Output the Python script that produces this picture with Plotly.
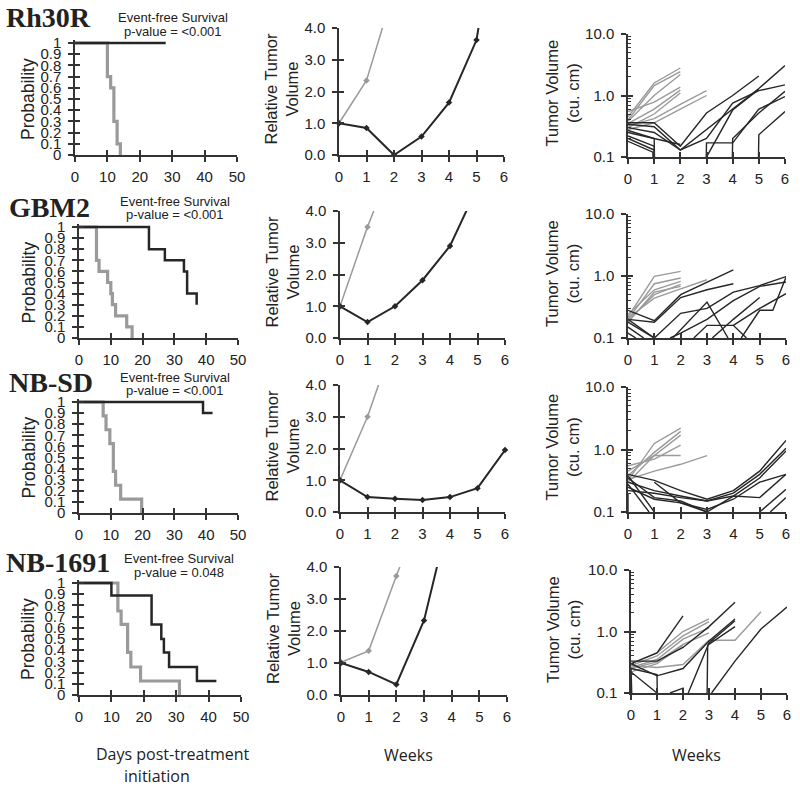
import plotly.graph_objects as go

W, H = 800, 789

# ---------------- data ----------------
models = ["Rh30R", "GBM2", "NB-SD", "NB-1691"]
p_values = ["p-value = <0.001", "p-value = <0.001", "p-value = <0.001", "p-value = 0.048"]

# Kaplan-Meier (days, probability)
km_ctrl_days = [[0, 10, 11, 12, 13, 14],
                [0, 5.5, 6.3, 9, 10, 10.5, 11.5, 15, 16.7],
                [0, 7.6, 8.5, 9.7, 10.8, 11.5, 13.1, 19.7],
                [0, 12, 13, 15, 16, 19, 31]]
km_ctrl_prob = [[1, 0.7, 0.6, 0.3, 0.1, 0],
                [1, 0.7, 0.6, 0.5, 0.4, 0.3, 0.2, 0.1, 0],
                [1, 0.875, 0.75, 0.625, 0.375, 0.25, 0.125, 0],
                [1, 0.75, 0.63, 0.38, 0.25, 0.125, 0]]
km_trt_days = [[0, 28],
               [0, 22, 27, 33, 34, 37],
               [0, 39, 42],
               [0, 10, 22.4, 25.4, 26.2, 27.8, 36.4, 42.4]]
km_trt_prob = [[1, 1],
               [1, 0.8, 0.7, 0.6, 0.4, 0.3],
               [1, 0.9, 0.9],
               [1, 0.889, 0.63, 0.5, 0.38, 0.25, 0.125, 0.125]]

# Relative tumor volume (weeks)
rtv_ctrl = [[1.0, 2.35, 5.2],
            [1.0, 3.5, 5.7],
            [1.0, 3.0, 5.5],
            [1.02, 1.38, 3.72, 6.0]]
rtv_trt = [[1.0, 0.85, 0.0, 0.58, 1.65, 3.62, 9.0],
           [1.0, 0.5, 1.0, 1.82, 2.9, 4.75],
           [1.0, 0.47, 0.42, 0.38, 0.47, 0.75, 1.95],
           [1.0, 0.72, 0.33, 2.33, 5.9]]

# Individual tumor volumes (weeks, cu. cm)
rh30r_ctrl_weeks = [[0, 1, 2], [0, 1, 2], [0, 1, 2], [0, 1, 2], [0, 1, 2], [0, 1, 2], [0, 1, 2, 3], [0, 1, 2, 3]]
rh30r_ctrl_vols = [[0.45, 1.6, 2.8], [0.4, 1.45, 2.45], [0.38, 1.0, 2.2], [0.55, 0.78, 1.37],
                   [0.35, 0.6, 1.22], [0.3, 0.5, 1.1], [0.32, 0.42, 0.72, 1.2], [0.28, 0.36, 0.6, 1.0]]
rh30r_trt_weeks = [[0, 1, 2, 3, 4, 5], [0, 1, 2, 3, 4, 5, 6], [0, 1, 2, 3, 4, 5, 6], [0, 1, 2],
                   [0, 1, 1.05], [0, 1, 1.05], [0, 1, 1.05], [0, 0.95, 1],
                   [2.95, 3, 4, 5, 6], [2.95, 3, 4, 5], [3.95, 4, 5, 6], [4.95, 5, 6]]
rh30r_trt_vols = [[0.36, 0.36, 0.15, 0.52, 1.0, 2.08], [0.34, 0.31, 0.13, 0.28, 0.6, 1.3, 3.06],
                  [0.3, 0.25, 0.13, 0.2, 0.75, 1.2, 1.49], [0.27, 0.2, 0.16],
                  [0.25, 0.2, 0.01], [0.22, 0.15, 0.01], [0.2, 0.13, 0.01], [0.18, 0.12, 0.01],
                  [0.01, 0.17, 0.17, 0.6, 0.96], [0.01, 0.1, 0.58, 1.25], [0.01, 0.2, 0.52, 1.17],
                  [0.01, 0.23, 0.55]]

gbm2_ctrl_weeks = [[0, 1, 2], [0, 1, 2], [0, 1, 2], [0, 1, 2], [0, 1, 2, 3], [0, 1, 2]]
gbm2_ctrl_vols = [[0.22, 0.99, 1.19], [0.2, 0.75, 0.93], [0.24, 0.6, 0.82], [0.19, 0.5, 0.73],
                  [0.21, 0.44, 0.62, 0.87], [0.18, 0.55, 0.68]]
gbm2_trt_weeks = [[0, 1, 2, 3, 4], [0, 1, 2, 3, 4], [0, 1, 2, 3, 4, 5, 6], [1.6, 2, 3, 4, 5, 6],
                  [1.7, 3, 3.8], [2.5, 3, 4, 4.5], [3.2, 4, 5], [4.3, 5, 5.5, 6], [4, 5, 6],
                  [0, 0.6], [0, 0.3], [0, 1]]
gbm2_trt_vols = [[0.28, 0.19, 0.5, 0.8, 1.25], [0.2, 0.18, 0.45, 0.6, 0.75],
                 [0.18, 0.1, 0.25, 0.3, 0.55, 0.7, 0.98], [0.1, 0.12, 0.2, 0.4, 0.68, 0.8],
                 [0.1, 0.38, 0.1], [0.1, 0.16, 0.16, 0.1], [0.1, 0.2, 0.45], [0.1, 0.28, 0.28, 0.95],
                 [0.16, 0.3, 0.52], [0.15, 0.1], [0.12, 0.1], [0.2, 0.1]]

nbsd_ctrl_weeks = [[0, 1, 2], [0, 1, 2], [0, 1, 2], [0, 1, 2], [0, 1, 2], [0, 1, 2, 3]]
nbsd_ctrl_vols = [[0.32, 1.25, 2.2], [0.38, 0.9, 1.95], [0.3, 0.8, 1.7], [0.45, 0.8, 0.8],
                  [0.55, 0.7, 1.17], [0.33, 0.45, 0.58, 0.8]]
nbsd_trt_weeks = [[0, 1, 2, 3, 4, 5, 6], [0, 1, 2, 3, 4, 5, 6], [0, 1, 2, 3, 4, 5, 6],
                  [0, 1, 2, 3, 4, 5, 6], [0, 1, 2, 3, 4, 5, 6], [0, 0.8], [0, 1], [0, 0],
                  [5, 6], [5.4, 6], [1, 2, 3]]
nbsd_trt_vols = [[0.4, 0.32, 0.22, 0.16, 0.22, 0.45, 1.4], [0.3, 0.22, 0.18, 0.15, 0.2, 0.4, 1.05],
                 [0.35, 0.17, 0.15, 0.1, 0.18, 0.35, 0.95], [0.25, 0.16, 0.14, 0.11, 0.16, 0.3, 0.4],
                 [0.22, 0.2, 0.17, 0.15, 0.18, 0.17, 0.4], [0.28, 0.1], [0.38, 0.1], [0.2, 0.01],
                 [0.1, 0.23], [0.1, 0.17], [0.3, 0.14, 0.1]]

nb1691_ctrl_weeks = [[0, 1, 2, 3], [0, 1, 2, 3], [0, 1, 2, 3], [0, 1, 2, 3], [0, 1, 2, 3, 4, 5], [0, 1, 2]]
nb1691_ctrl_vols = [[0.3, 0.45, 1.0, 1.6], [0.28, 0.4, 0.85, 1.45], [0.26, 0.35, 0.75, 1.15],
                    [0.25, 0.32, 0.62, 0.95], [0.28, 0.26, 0.29, 0.72, 0.72, 2.1], [0.22, 0.3, 0.6]]
nb1691_trt_weeks = [[0, 1, 2], [0, 1, 2, 3, 4], [0, 1, 2, 3, 4], [0, 1, 1.05], [0, 0.1], [0, 1],
                    [1.5, 2, 2.2], [2.2, 3, 4], [2.9, 2.95, 4], [3.1, 4, 5, 6]]
nb1691_trt_vols = [[0.3, 0.45, 1.8], [0.33, 0.33, 0.55, 1.2, 3.0], [0.3, 0.19, 0.25, 0.7, 1.6],
                   [0.25, 0.2, 0.01], [0.25, 0.01], [0.22, 0.1], [0.1, 0.12, 0.01],
                   [0.1, 0.65, 1.5], [0.01, 0.6, 1.2], [0.1, 0.33, 1.1, 2.5]]

tv_ctrl_weeks = [rh30r_ctrl_weeks, gbm2_ctrl_weeks, nbsd_ctrl_weeks, nb1691_ctrl_weeks]
tv_ctrl_vols = [rh30r_ctrl_vols, gbm2_ctrl_vols, nbsd_ctrl_vols, nb1691_ctrl_vols]
tv_trt_weeks = [rh30r_trt_weeks, gbm2_trt_weeks, nbsd_trt_weeks, nb1691_trt_weeks]
tv_trt_vols = [rh30r_trt_vols, gbm2_trt_vols, nbsd_trt_vols, nb1691_trt_vols]

# ---------------- layout geometry (pixels) ----------------
km_rects = [(75, 237, 43, 155), (79, 238, 227, 338), (79, 238, 402, 513), (79, 241, 583, 695)]
rtv_rects = [(339, 504, 28, 155), (340, 505, 211, 338), (340, 505, 385, 512), (341, 507, 567, 695)]
tv_rects = [(628, 785, 34, 157), (628, 786, 214, 338), (628, 786, 387, 512), (631, 787, 570, 693)]

GRAY = "#9a9a9a"
BLACK = "#262626"
AX = "#333333"
TICKFONT = dict(family="Liberation Sans, Arial", size=15, color="#222")

fig = go.Figure()
layout = {}


def xdom(x0, x1):
    return [x0 / W, x1 / W]


def ydom(ytop, ybot):
    return [1 - ybot / H, 1 - ytop / H]


def add_axes(k, rect, xr, yr, xt, yt, ylog=False, ytext=None, ytop_ext=0.0):
    x0, x1, y0, y1 = rect
    top = y1 - (y1 - y0) * (1 + ytop_ext)
    xd, yd = xdom(x0, x1), ydom(top, y1)
    i = k + 1
    j = k + 13
    base = dict(showgrid=False, zeroline=False, linecolor=AX, linewidth=1.5, automargin=False,
                tickcolor=AX, tickwidth=1.5, ticklen=5, tickfont=TICKFONT)
    layout[f"xaxis{i}"] = dict(base, domain=xd, anchor=f"y{i}", range=xr, tickmode="array",
                               tickvals=xt, ticktext=[str(v) for v in xt], showline=True,
                               ticks="outside", ticklabelstandoff=2)
    ycfg = dict(base, domain=yd, anchor=f"x{i}", range=yr, tickmode="array", tickvals=yt,
                ticktext=ytext if ytext else [str(v) for v in yt], showline=True,
                ticks="outside", ticklabelstandoff=4)
    if ylog:
        ycfg["type"] = "log"
    layout[f"yaxis{i}"] = ycfg
    # overlay axes for crossing ticks
    layout[f"xaxis{j}"] = dict(base, domain=xd, anchor=f"y{i}", overlaying=f"x{i}", range=xr,
                               tickmode="array", tickvals=xt, showticklabels=False,
                               showline=False, ticks="inside")
    oy = dict(base, domain=yd, anchor=f"x{i}", overlaying=f"y{i}", range=yr, tickmode="array",
              tickvals=yt, showticklabels=False, showline=False, ticks="inside")
    if ylog:
        oy["type"] = "log"
        oy["minor"] = dict(ticks="inside", ticklen=3, tickcolor=AX, tickwidth=1,
                           tickvals=[m * d for d in (0.1, 1) for m in range(2, 10)])
    layout[f"yaxis{j}"] = oy
    # dummy traces so overlay axes render
    fig.add_trace(go.Scatter(x=[xr[0]], y=[yr[0] if not ylog else 10 ** yr[0]], mode="markers",
                             marker=dict(opacity=0), xaxis=f"x{j}", yaxis=f"y{j}",
                             showlegend=False, hoverinfo="skip"))


for r in range(4):
    # ---- Kaplan-Meier ----
    k = r * 3
    add_axes(k, km_rects[r], [0, 50], [0, 1.0 * 1.03], [0, 10, 20, 30, 40, 50],
             [0, 0.1, 0.2, 0.3, 0.4, 0.5, 0.6, 0.7, 0.8, 0.9, 1],
             ytext=["0", "0.1", "0.2", "0.3", "0.4", "0.5", "0.6", "0.7", "0.8", "0.9", "1"],
             ytop_ext=0.03)
    fig.add_trace(go.Scatter(x=km_ctrl_days[r], y=km_ctrl_prob[r], mode="lines",
                             line=dict(color=GRAY, width=3.2, shape="hv"),
                             xaxis=f"x{k+1}", yaxis=f"y{k+1}", showlegend=False))
    fig.add_trace(go.Scatter(x=km_trt_days[r], y=km_trt_prob[r], mode="lines",
                             line=dict(color=BLACK, width=2.5, shape="hv"),
                             xaxis=f"x{k+1}", yaxis=f"y{k+1}", showlegend=False))

    # ---- relative tumor volume ----
    k = r * 3 + 1
    add_axes(k, rtv_rects[r], [0, 6], [0, 4], [0, 1, 2, 3, 4, 5, 6], [0, 1, 2, 3, 4],
             ytext=["0.0", "1.0", "2.0", "3.0", "4.0"])
    for vals, col, w in ((rtv_ctrl[r], GRAY, 1.5), (rtv_trt[r], BLACK, 2)):
        wk = list(range(len(vals)))
        fig.add_trace(go.Scatter(x=wk, y=vals, mode="lines", line=dict(color=col, width=w),
                                 xaxis=f"x{k+1}", yaxis=f"y{k+1}", showlegend=False))
        mx = [a for a, b in zip(wk, vals) if b <= 4]
        my = [b for a, b in zip(wk, vals) if b <= 4]
        fig.add_trace(go.Scatter(x=mx, y=my, mode="markers", cliponaxis=False,
                                 marker=dict(color=col, size=5, symbol="diamond"),
                                 xaxis=f"x{k+1}", yaxis=f"y{k+1}", showlegend=False))

    # ---- individual tumor volumes (log) ----
    k = r * 3 + 2
    add_axes(k, tv_rects[r], [0, 6], [-1, 1], [0, 1, 2, 3, 4, 5, 6], [0.1, 1, 10],
             ylog=True, ytext=["0.1", "1.0", "10.0"])
    for wks, vols in zip(tv_ctrl_weeks[r], tv_ctrl_vols[r]):
        fig.add_trace(go.Scatter(x=wks, y=vols, mode="lines", line=dict(color=GRAY, width=1.4),
                                 xaxis=f"x{k+1}", yaxis=f"y{k+1}", showlegend=False))
    for wks, vols in zip(tv_trt_weeks[r], tv_trt_vols[r]):
        fig.add_trace(go.Scatter(x=wks, y=vols, mode="lines", line=dict(color=BLACK, width=1.4),
                                 xaxis=f"x{k+1}", yaxis=f"y{k+1}", showlegend=False))

# ---------------- annotations ----------------
ann = []


def text(s, x, y, size=14, family="Liberation Sans, Arial", angle=0, xanchor="center"):
    ann.append(dict(text=s, x=x / W, y=1 - y / H, xref="paper", yref="paper", showarrow=False,
                    xanchor=xanchor, yanchor="middle", textangle=angle,
                    font=dict(size=size, family=family, color="#222")))


title_pos = [(48, 17), (49, 207), (51, 382), (58, 562)]
event_pos = [(173, 17, 31), (175, 201, 214), (175, 377, 390), (179, 558, 572)]
for r in range(4):
    tx, ty = title_pos[r]
    text(f"<b>{models[r]}</b>", tx, ty, size=28, family="Liberation Serif, Times New Roman")
    ex, ey1, ey2 = event_pos[r]
    text("Event-free Survival", ex, ey1, size=13)
    text(p_values[r], ex, ey2, size=13)
    # y titles
    x0, x1, y0, y1 = km_rects[r]
    text("Probability", 28, (y0 + y1) / 2, size=17.5, angle=-90)
    x0, x1, y0, y1 = rtv_rects[r]
    text("Relative Tumor<br>Volume", 281 + (x0 - 339), (y0 + y1) / 2 - 2, size=16.5, angle=-90)
    x0, x1, y0, y1 = tv_rects[r]
    text("Tumor Volume<br>(cu. cm)", 562 + (x0 - 628) / 2, (y0 + y1) / 2 - 2, size=16.5, angle=-90)

text("Days post-treatment", 173, 754, size=16, family="Open Sans")
text("initiation", 157, 776, size=16, family="Open Sans")
text("Weeks", 408, 755, size=16, family="Open Sans")
text("Weeks", 696, 755, size=16, family="Open Sans")

fig.update_layout(width=W, height=H, margin=dict(l=0, r=0, t=0, b=0, pad=0, autoexpand=False),
                  paper_bgcolor="white", plot_bgcolor="white", showlegend=False,
                  annotations=ann, **layout)

fig.write_html("out.html", config={"displayModeBar": False},
               post_script="document.body.style.margin='0';document.body.style.overflow='hidden';")
